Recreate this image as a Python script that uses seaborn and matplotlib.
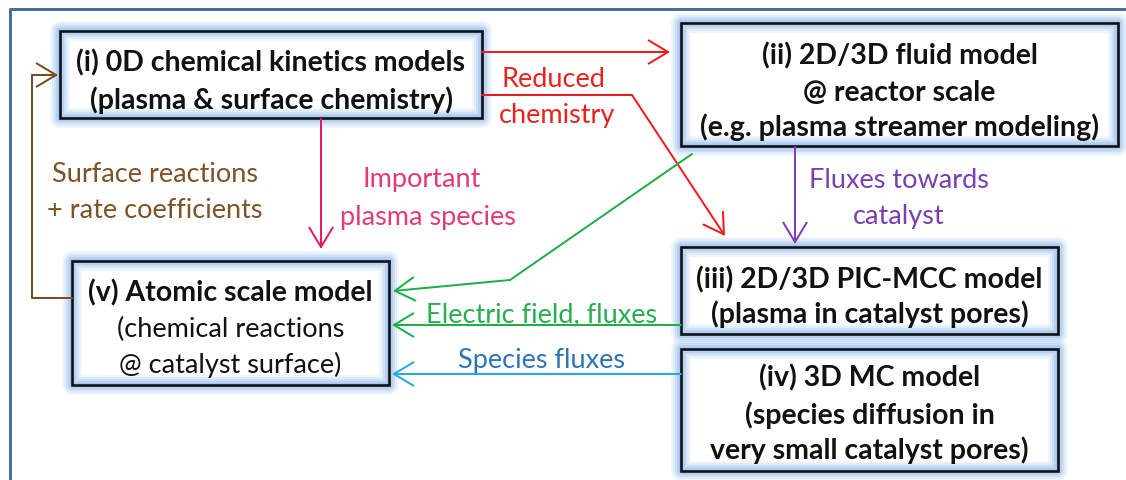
import matplotlib
matplotlib.use("Agg")
import matplotlib.pyplot as plt
from matplotlib.patches import Rectangle
import numpy as np
import pandas as pd
import seaborn as sns

# ---------------- content ----------------
box_names = ["i", "ii", "iii", "iv", "v"]
box_lines = [
    ["(i) 0D chemical kinetics models", "(plasma & surface chemistry)"],
    ["(ii) 2D/3D fluid model", "@ reactor scale", "(e.g. plasma streamer modeling)"],
    ["(iii) 2D/3D PIC-MCC model", "(plasma in catalyst pores)"],
    ["(iv) 3D MC model", "(species diffusion in", "very small catalyst pores)"],
    ["(v) Atomic scale model", "(chemical reactions", "@ catalyst surface)"],
]
box_bold = [
    [True, True],
    [True, True, True],
    [True, True],
    [True, True, True],
    [True, False, False],
]
# layout (pixel space): left, top, right, bottom
box_extent = [
    (60, 32, 482, 119),
    (681, 24, 1118, 147),
    (681, 248, 1058, 335),
    (681, 350, 1058, 472),
    (72, 262, 389, 386),
]
box_line_y = [
    [60, 98],
    [53, 90, 125],
    [277, 312],
    [375, 413, 448],
    [290, 327, 362],
]

label_texts = [
    ["Reduced", "chemistry"],
    ["Surface reactions", "+ rate coefficients"],
    ["Important", "plasma species"],
    ["Fluxes towards", "catalyst"],
    ["Electric field, fluxes"],
    ["Species fluxes"],
]
label_colors = ["#e8231f", "#7f5228", "#e33a78", "#7a3fb0", "#27ae4f", "#2e75b6"]
label_x = [[553, 557], [155, 155], [422, 428], [899, 899], [542], [542]]
label_y = [[77, 113], [172, 208], [177, 215], [178, 214], [312], [358]]

# connectors: polylines, arrow drawn on final segment
conn_x = [
    [482, 670],
    [482, 632, 725],
    [321, 321],
    [795, 795],
    [692, 510, 393],
    [681, 392],
    [681, 392],
    [72, 32, 32, 58],
]
conn_y = [
    [53, 53],
    [96, 96, 237],
    [120, 250],
    [148, 245],
    [155, 281, 292],
    [326, 326],
    [375, 375],
    [299, 299, 76, 76],
]
conn_colors = ["#ee1d1d", "#ee1d1d", "#e8176b", "#7b3fb3", "#1fae48", "#1fae48",
               "#27a9e6", "#7b4a1e"]

# ---------------- drawing ----------------
sns.set_theme(style="white")
plt.rcParams["font.family"] = ["Lato", "DejaVu Sans"]

W, H = 1126, 481
fig = plt.figure(figsize=(W / 100, H / 100), dpi=100)
ax = fig.add_axes([0, 0, 1, 1])
ax.set_xlim(0, W)
ax.set_ylim(H, 0)
ax.axis("off")

PX = 72 / 100  # points per pixel

# outer frame
ax.plot([10, 10, W + 5], [H + 5, 10, 10], color="#4a6e9c", lw=3 * PX,
        solid_capstyle="butt", zorder=1)

renderer = fig.canvas.get_renderer()


def fit(text, weight, target):
    t = ax.text(0, 0, text, fontsize=20, fontweight=weight)
    w = t.get_window_extent(renderer).width
    t.remove()
    return 20 * target / w


size_bold = fit("(i) 0D chemical kinetics models", "bold", 390)
size_reg = fit("Electric field, fluxes", "normal", 232)

# boxes with glow
glow = "#8fb8ee"
for (l, t, r, b), lines, bolds, ys in zip(box_extent, box_lines, box_bold, box_line_y):
    ax.add_patch(Rectangle((l, t), r - l, b - t, facecolor="white", edgecolor="none", zorder=2))
    for lw, a in [(20, 0.12), (16, 0.16), (12, 0.24), (8, 0.34), (4, 0.45)]:
        ax.add_patch(Rectangle((l, t), r - l, b - t, facecolor="none", edgecolor=glow,
                               lw=lw * PX, alpha=a, joinstyle="round", zorder=3))
    ax.add_patch(Rectangle((l, t), r - l, b - t, facecolor="none", edgecolor="#111111",
                           lw=2.6 * PX, zorder=4))
    cx = (l + r) / 2
    for s, bd, y in zip(lines, bolds, ys):
        ax.text(cx, y, s, ha="center", va="center_baseline",
                fontsize=size_bold if bd else size_reg * 1.0,
                fontweight="bold" if bd else "normal", color="#111111", zorder=5)

# connectors
for xs, ys, c in zip(conn_x, conn_y, conn_colors):
    df = pd.DataFrame({"x": xs, "y": ys, "o": range(len(xs))})
    if len(xs) > 2:
        sns.lineplot(data=df.iloc[:-1], x="x", y="y", sort=False, estimator=None,
                     color=c, lw=2 * PX, ax=ax, zorder=6, legend=False)
    ax.annotate("", xy=(xs[-1], ys[-1]), xytext=(xs[-2], ys[-2]),
                arrowprops=dict(arrowstyle="->,head_length=0.7,head_width=0.42",
                                color=c, lw=2 * PX, mutation_scale=20,
                                shrinkA=0, shrinkB=0),
                zorder=6)
ax.set_xlim(0, W)
ax.set_ylim(H, 0)
ax.set_xlabel("")
ax.set_ylabel("")

# labels
for texts, col, xs, ys in zip(label_texts, label_colors, label_x, label_y):
    for s, x, y in zip(texts, xs, ys):
        ax.text(x, y, s, ha="center", va="center_baseline", fontsize=size_reg,
                color=col, zorder=7)

fig.savefig("out.png", dpi=100, facecolor="white")
